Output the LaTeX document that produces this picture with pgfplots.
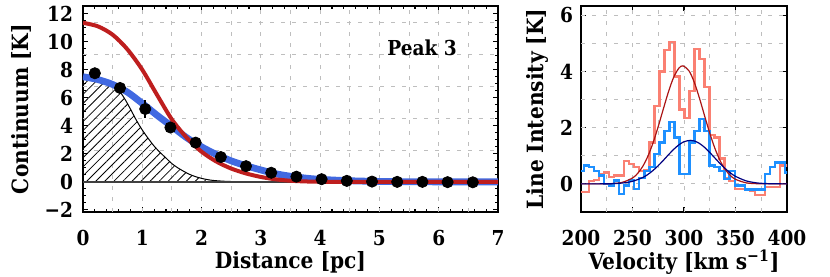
\documentclass[border=0pt]{standalone}
\usepackage{fontspec}
\setmainfont{DejaVu Serif Condensed}
\usepackage{pgfplots}
\pgfplotsset{compat=1.18}
\usetikzlibrary{patterns.meta}
\definecolor{bandblue}{RGB}{65,105,225}
\definecolor{bandred}{RGB}{190,30,30}
\definecolor{salmonh}{RGB}{250,128,114}
\definecolor{bluehist}{RGB}{30,144,255}
\definecolor{fitred}{RGB}{170,20,20}
\definecolor{fitnavy}{RGB}{0,0,128}
\definecolor{gridgray}{RGB}{190,190,190}
\pgfplotsset{
  common/.style={
    scale only axis, anchor=south west,
    tick align=inside,
    axis line style={line width=1.1pt},
    every tick/.style={black, line width=0.6pt},
    major tick length=2.5pt, minor tick length=1.3pt,
    /pgf/number format/assume math mode=true,
    xticklabel style={yshift=-5.5pt},
    label style={font=\fontsize{11.2}{12}\selectfont\bfseries},
    extra tick style={grid=major, major tick length=0pt},
    major grid style={gridgray, dash pattern=on 2.2pt off 3.3pt, line width=0.5pt},
  }
}
\begin{document}
\begin{tikzpicture}[font=\fontsize{10.3}{11}\selectfont\bfseries]
\useasboundingbox (0,0) rectangle (415pt,138.5pt);
% ---------------- left panel ----------------
\begin{axis}[common,
  at={(41.5pt,32.5pt)}, width=207.5pt, height=103pt,
  xmin=0, xmax=7, ymin=-2.15, ymax=12.55,
  xtick={0,1,...,7}, ytick={-2,0,2,4,6,8,10,12},
  yticklabels={−2,0,2,4,6,8,10,12},
  minor x tick num=4, minor y tick num=3,
  yticklabel style={xshift=-1.5pt},
  extra x ticks={0.5,1,...,6.5}, extra x tick labels={},
  extra y ticks={2.27,4.54,6.81,9.08,11.35}, extra y tick labels={},
  xlabel={Distance [pc]}, ylabel={Continuum [K]},
  xlabel style={at={(axis description cs:0.5,-0.243)}, anchor=center},
  ylabel style={at={(axis description cs:-0.1475,0.5)}, anchor=center},
]
% hatched component
\addplot[draw=none, pattern={Lines[angle=45,distance=3.2pt,line width=0.4pt]}] coordinates {
(0,0) (0,7.5) (0.1,7.4) (0.2,7.25) (0.3,7.1) (0.4,6.97) (0.5,6.85) (0.6,6.55) (0.7,5.95)
(0.8,5.2) (0.9,4.4) (1.0,3.7) (1.1,3.1) (1.2,2.55) (1.3,2.1) (1.4,1.7) (1.5,1.3)
(1.6,1.0) (1.7,0.75) (1.8,0.53) (1.9,0.37) (2.0,0.25) (2.1,0.16) (2.2,0.1) (2.4,0.04)
(2.6,0.015) (2.8,0.005) (3.0,0)};
\addplot[black, line width=0.5pt, smooth] coordinates {
(0,7.5) (0.1,7.4) (0.2,7.25) (0.3,7.1) (0.4,6.97) (0.5,6.85) (0.6,6.55) (0.7,5.95)
(0.8,5.2) (0.9,4.4) (1.0,3.7) (1.1,3.1) (1.2,2.55) (1.3,2.1) (1.4,1.7) (1.5,1.3)
(1.6,1.0) (1.7,0.75) (1.8,0.53) (1.9,0.37) (2.0,0.25) (2.1,0.16) (2.2,0.1) (2.4,0.04)
(2.6,0.015) (2.8,0.005) (3.0,0)};
% zero line
\addplot[black!75, line width=0.7pt] coordinates {(0,0) (7,0)};
% blue model
\addplot[bandblue, line width=3.4pt, smooth] coordinates {
(0,7.5) (0.25,7.3) (0.5,6.95) (0.75,6.4) (1.0,5.6) (1.25,4.75) (1.5,3.95) (1.75,3.15)
(2.0,2.5) (2.25,1.95) (2.5,1.5) (2.75,1.15) (3.0,0.85) (3.25,0.58) (3.5,0.4) (3.75,0.27)
(4.0,0.18) (4.5,0.08) (5.0,0.03) (5.5,0.01) (6.0,0) (7.0,0)};
% red model
\addplot[bandred, line width=2pt, smooth] coordinates {
(0,11.35) (0.25,11.1) (0.5,10.5) (0.75,9.45) (1.0,8.0) (1.25,6.2) (1.5,4.45) (1.75,3.15)
(2.0,2.15) (2.25,1.45) (2.5,0.95) (2.75,0.6) (3.0,0.35) (3.25,0.18) (3.5,0.08)
(3.75,0.03) (4.0,0.01) (4.5,0) (7.0,0)};
% data
\addplot[black, only marks, mark=*, mark size=2.8pt,
  error bars/.cd, y dir=both, y explicit, error bar style={line width=0.8pt}, error mark=none]
 coordinates {
(0.2,7.75) +- (0,0.3) (0.625,6.7) +- (0,0.3) (1.05,5.2) +- (0,0.65) (1.475,3.88) +- (0,0.3)
(1.9,2.8) +- (0,0.3) (2.325,1.77) +- (0,0.3) (2.75,1.12) +- (0,0.3) (3.175,0.65) +- (0,0.2)
(3.6,0.37) +- (0,0.2) (4.025,0.19) +- (0,0.2) (4.45,0.07) +- (0,0.2) (4.875,0.02) +- (0,0.2)
(5.3,0.0) +- (0,0.2) (5.725,0.0) +- (0,0.2) (6.15,-0.02) +- (0,0.2) (6.575,-0.03) +- (0,0.2)};
\node at (axis cs:5.72,9.6) {Peak 3};
\end{axis}
% ---------------- right panel ----------------
\begin{axis}[common,
  at={(290.5pt,32.5pt)}, width=103pt, height=103pt,
  xmin=200, xmax=400, ymin=-1, ymax=6.33,
  xtick={200,250,...,400}, ytick={0,2,4,6},
  yticklabel style={xshift=-0.5pt},
  extra x ticks={225,250,...,375}, extra x tick labels={},
  extra y ticks={0,1,...,6}, extra y tick labels={},
  xlabel={Velocity [km s\textsuperscript{−1}]}, ylabel={Line Intensity [K]},
  xlabel style={at={(axis description cs:0.5,-0.243)}, anchor=center},
  ylabel style={at={(axis description cs:-0.209,0.5)}, anchor=center},
]
\addplot[salmonh, line width=1.15pt, const plot] coordinates {
(198.2,-0.3) (203.07,-0.3) (207.94,0.1) (212.81,0.15) (217.68,0.35) (222.55,0.4)
(227.42,0.25) (232.29,0.3) (237.16,0.3) (242.03,0.82) (246.90,0.7) (251.77,0.6)
(256.64,0.45) (261.51,0.5) (266.38,1.47) (271.25,2.76) (276.12,4.0) (280.99,4.76)
(285.86,5.06) (290.73,3.82) (295.60,2.65) (300.47,2.35) (305.34,3.3) (310.21,4.8)
(315.08,4.45) (319.95,3.45) (324.82,1.75) (329.69,1.65) (334.56,0.9) (339.43,0.2)
(344.30,0.1) (349.17,-0.18) (354.04,-0.18) (358.91,-0.22) (363.78,-0.25) (368.65,-0.4)
(373.52,-0.4) (378.39,-0.12) (383.26,-0.12) (388.13,-0.12) (393.00,0.65) (397.87,0.65)
(402.74,0.65)};
\addplot[bluehist, line width=1.15pt, const plot] coordinates {
(198.2,0.45) (203.07,0.65) (207.94,0.6) (212.81,0.47) (217.68,0.3) (222.55,0.0)
(227.42,-0.06) (232.29,0.12) (237.16,-0.35) (242.03,-0.06) (246.90,0.15) (251.77,-0.18)
(256.64,0.2) (261.51,0.45) (266.38,0.6) (271.25,1.06) (276.12,1.47) (280.99,1.88)
(285.86,2.2) (290.73,1.65) (295.60,0.35) (300.47,0.35) (305.34,1.47) (310.21,1.88)
(315.08,2.3) (319.95,1.88) (324.82,0.65) (329.69,0.6) (334.56,0.47) (339.43,0.18)
(344.30,0.47) (349.17,-0.06) (354.04,-0.06) (358.91,-0.2) (363.78,-0.2) (368.65,-0.2)
(373.52,-0.2) (378.39,0.35) (383.26,0.6) (388.13,0.76) (393.00,0.76) (397.87,0.4)
(402.74,0.4)};
\addplot[fitred, line width=0.6pt, smooth] coordinates {
(200,0.0) (210,0.0002) (220,0.0017) (230,0.011) (240,0.054) (250,0.209) (255,0.373)
(260,0.627) (265,0.99) (270,1.468) (275,2.044) (280,2.675) (285,3.287) (290,3.796)
(295,4.116) (299,4.2) (305,4.015) (310,3.611) (315,3.05) (320,2.421) (325,1.804)
(330,1.264) (335,0.831) (340,0.514) (345,0.298) (350,0.163) (360,0.04) (370,0.008)
(380,0.001) (390,0.0) (400,0.0)};
\addplot[fitnavy, line width=0.6pt, smooth] coordinates {
(200,0.0) (210,0.0004) (220,0.0019) (230,0.0083) (240,0.03) (250,0.091) (260,0.228)
(265,0.338) (270,0.48) (275,0.649) (280,0.84) (285,1.04) (290,1.229) (295,1.389)
(300,1.5) (306,1.55) (310,1.528) (315,1.44) (320,1.298) (325,1.118) (330,0.92)
(335,0.724) (340,0.544) (345,0.391) (350,0.269) (360,0.111) (370,0.038) (380,0.011)
(390,0.003) (400,0.0)};
\end{axis}
\end{tikzpicture}
\end{document}
